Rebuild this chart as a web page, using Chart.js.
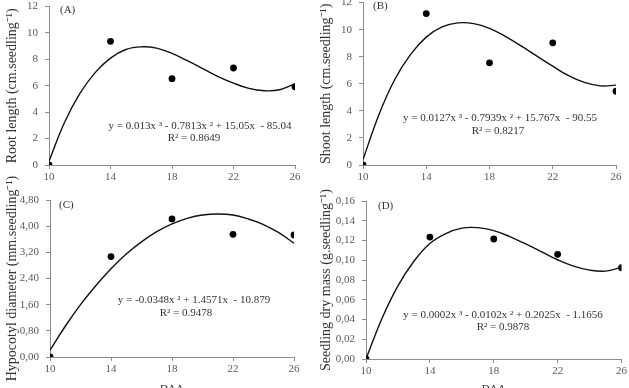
<!DOCTYPE html>
<html>
<head>
<meta charset="utf-8">
<script src="https://cdn.jsdelivr.net/npm/chart.js@4/dist/chart.umd.min.js"></script>
<style>
html, body { margin: 0; padding: 0; background: #fff; overflow: hidden; width: 629px; height: 388px; }
canvas { position: absolute; }
</style>
</head>
<body>
<canvas id="chartA" width="314" height="197" style="left:0px;top:-7px"></canvas>
<canvas id="chartB" width="315" height="201" style="left:314px;top:-11px"></canvas>
<canvas id="chartC" width="314" height="225" style="left:0px;top:175px"></canvas>
<canvas id="chartD" width="315" height="225" style="left:314px;top:175px"></canvas>
<script>
// observed values (DAA = days after anthesis)
var days = [10, 14, 18, 22, 26]
var rootLength = [0, 9.37, 6.54, 7.35, 5.93]
var shootLength = [0, 11.19, 7.55, 9.03, 5.45]
var hypocotylDiam = [0, 3.07, 4.22, 3.75, 3.73]
var dryMass = [0, 0.1235, 0.1215, 0.106, 0.0924]

// fitted curves at each day
var fitDays = [10, 11, 12, 13, 14, 15, 16, 17, 18, 19, 20, 21, 22, 23, 24, 25, 26]
var rootFit = [0.3, 3.2, 5.4, 7.0, 8.1, 8.75, 8.95, 8.85, 8.45, 7.9, 7.3, 6.7, 6.2, 5.8, 5.62, 5.7, 6.15]
var shootFit = [0.4, 3.7, 6.3, 8.15, 9.45, 10.2, 10.5, 10.45, 10.1, 9.5, 8.8, 8.05, 7.3, 6.6, 6.1, 5.85, 5.9]
var hypocotylFit = [0.21, 0.94, 1.6, 2.18, 2.7, 3.15, 3.52, 3.83, 4.07, 4.24, 4.34, 4.37, 4.34, 4.22, 4.05, 3.8, 3.48]
var dryMassFit = [0, 0.041, 0.074, 0.099, 0.117, 0.127, 0.1325, 0.133, 0.13, 0.124, 0.1165, 0.1085, 0.1005, 0.094, 0.09, 0.089, 0.093]

// tick labels
var dayTicks = ['10', '14', '18', '22', '26']
var lengthTicks = ['0', '2', '4', '6', '8', '10', '12']
var diamTicks = ['0,00', '0,80', '1,60', '2,40', '3,20', '4,00', '4,80']
var massTicks = ['0,00', '0,02', '0,04', '0,06', '0,08', '0,10', '0,12', '0,14', '0,16']

Chart.defaults.font.family = "'Liberation Serif', 'Times New Roman', serif"
Chart.defaults.devicePixelRatio = 1

// draws equation / panel letter texts
var notesPlugin = {
       id: 'notes',
       afterDraw: function (chart, args, opts) {
              var ctx = chart.ctx
              var area = chart.chartArea
              ctx.save()
              ctx.fillStyle = '#333'
              ctx.textBaseline = 'middle'
              opts.items.forEach(function (t) {
                     ctx.font = (t.size || 11) + "px 'Liberation Serif', serif"
                     ctx.textAlign = t.align || 'center'
                     ctx.fillText(t.text, area.left + t.dx, area.top + t.dy)
              })
              ctx.restore()
       }
}

function toPoints(xs, ys) {
       return xs.map(function (x, i) { return { x: x, y: ys[i] } })
}

function makePanel(id, obs, fit, yMax, yStep, yTicks, yTitle, notes, lay) {
       var axisColor = '#8c8c8c'
       return new Chart(document.getElementById(id), {
              type: 'scatter',
              data: {
                     datasets: [{
                            data: toPoints(fitDays, fit),
                            showLine: true,
                            borderColor: '#111',
                            borderWidth: 1.4,
                            pointRadius: 0,
                            tension: 0.4
                     }, {
                            data: toPoints(days, obs),
                            showLine: false,
                            pointRadius: 3.4,
                            pointBackgroundColor: '#000',
                            pointBorderColor: '#000',
                            pointBorderWidth: 0
                     }]
              },
              plugins: [notesPlugin],
              options: {
                     responsive: false,
                     animation: false,
                     layout: { padding: { left: 0, right: lay.right, top: lay.top, bottom: 0 } },
                     scales: {
                            x: {
                                   type: 'linear',
                                   min: 10,
                                   max: 26,
                                   afterFit: function (s) { s.height = lay.xh },
                                   ticks: {
                                          stepSize: 4,
                                          padding: 2,
                                          color: '#595959',
                                          font: { size: 11 },
                                          maxRotation: 0,
                                          callback: function (v, i) { return dayTicks[i] }
                                   },
                                   grid: { drawOnChartArea: false, tickLength: 4, color: axisColor },
                                   border: { color: axisColor },
                                   title: {
                                          display: lay.showX,
                                          text: 'DAA',
                                          color: '#333',
                                          font: { size: 11 },
                                          padding: { top: 0, bottom: 4 }
                                   }
                            },
                            y: {
                                   min: 0,
                                   max: yMax,
                                   afterFit: function (s) { s.width = lay.yw },
                                   ticks: {
                                          stepSize: yStep,
                                          padding: 7,
                                          color: '#595959',
                                          font: { size: 11 },
                                          callback: function (v, i) { return yTicks[i] }
                                   },
                                   grid: { drawOnChartArea: false, tickLength: 4, color: axisColor },
                                   border: { color: axisColor },
                                   title: {
                                          display: true,
                                          text: yTitle,
                                          color: '#333',
                                          font: { size: 14 },
                                          padding: 4
                                   }
                            }
                     },
                     plugins: {
                            legend: { display: false },
                            tooltip: { enabled: false },
                            notes: { items: notes }
                     }
              }
       })
}

makePanel('chartA', rootLength, rootFit, 12, 2, lengthTicks, 'Root length (cm.seedling\u207B\u00B9)', [
       { text: '(A)', dx: 11, dy: 4, align: 'left' },
       { text: 'y = 0.013x \u00B3 - 0.7813x \u00B2 + 15.05x  - 85.04', dx: 151, dy: 120 },
       { text: 'R\u00B2 = 0.8649', dx: 145, dy: 132 }
], { right: 19, top: 0, yw: 49, xh: 25, showX: false })

makePanel('chartB', shootLength, shootFit, 12, 2, lengthTicks, 'Shoot length (cm.seedling\u207B\u00B9)', [
       { text: '(B)', dx: 10, dy: 4, align: 'left' },
       { text: 'y = 0.0127x \u00B3 - 0.7939x \u00B2 + 15.767x  - 90.55', dx: 137, dy: 116 },
       { text: 'R\u00B2 = 0.8217', dx: 135, dy: 129 }
], { right: 13, top: 0, yw: 49, xh: 25, showX: false })

makePanel('chartC', hypocotylDiam, hypocotylFit, 4.8, 0.8, diamTicks, 'Hypocotyl diameter (mm.seedling\u207B\u00B9)', [
       { text: '(C)', dx: 9, dy: 5, align: 'left' },
       { text: 'y = -0.0348x \u00B2 + 1.4571x  - 10.879', dx: 144, dy: 100 },
       { text: 'R\u00B2 = 0.9478', dx: 136, dy: 113 }
], { right: 20, top: 25, yw: 50, xh: 43, showX: true })

makePanel('chartD', dryMass, dryMassFit, 0.16, 0.02, massTicks, 'Seedling dry mass (g.seedling\u207B\u00B9)', [
       { text: '(D)', dx: 12, dy: 5, align: 'left' },
       { text: 'y = 0.0002x \u00B3 - 0.0102x \u00B2 + 0.2025x  - 1.1656', dx: 137, dy: 114 },
       { text: 'R\u00B2 = 0.9878', dx: 137, dy: 126 }
], { right: 7, top: 26, yw: 52, xh: 41, showX: true })
</script>
</body>
</html>
